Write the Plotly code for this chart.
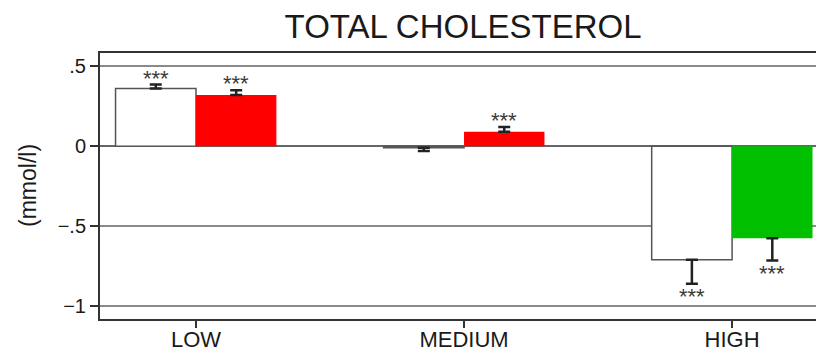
import plotly.graph_objects as go
import numpy as np

categories = ["LOW", "MEDIUM", "HIGH"]
series1_values = [0.36, -0.01, -0.71]
series1_err_plus = [0.025, 0.0, 0.0]
series1_err_minus = [0.0, 0.02, 0.15]
series1_sig = ["***", "", "***"]
series2_values = [0.32, 0.09, -0.575]
series2_err_plus = [0.03, 0.03, 0.0]
series2_err_minus = [0.0, 0.0, 0.14]
series2_sig = ["***", "***", "***"]
series2_colors = ["#ff0000", "#ff0000", "#00c000"]
ytick_vals = [0.5, 0, -0.5, -1]
ytick_text = [".5", "0", "\u2212.5", "\u22121"]

FONT = "Liberation Sans, Arial, Helvetica, sans-serif"
pos = np.arange(len(categories))
bw = 0.3

fig = go.Figure()
fig.add_trace(go.Bar(
    x=pos - bw / 2, y=series1_values, width=bw,
    marker=dict(color="white", line=dict(color="#555555", width=1.5)),
    error_y=dict(type="data", symmetric=False, array=series1_err_plus,
                 arrayminus=series1_err_minus, color="#222222", thickness=2.5, width=6),
    showlegend=False, hoverinfo="skip",
))
fig.add_trace(go.Bar(
    x=pos + bw / 2, y=series2_values, width=bw,
    marker=dict(color=series2_colors, line=dict(width=0)),
    error_y=dict(type="data", symmetric=False, array=series2_err_plus,
                 arrayminus=series2_err_minus, color="#222222", thickness=2.5, width=6),
    showlegend=False, hoverinfo="skip",
))

annotations = []
for offs, vals, ep, em, sig in [(-bw / 2, series1_values, series1_err_plus, series1_err_minus, series1_sig),
                                (bw / 2, series2_values, series2_err_plus, series2_err_minus, series2_sig)]:
    for i, v in enumerate(vals):
        if not sig[i]:
            continue
        if v >= 0:
            annotations.append(dict(x=pos[i] + offs, y=v + ep[i], text=sig[i], showarrow=False,
                                    yanchor="bottom", yshift=-8, xref="x", yref="y",
                                    font=dict(family=FONT, size=22, color="#3a3a3a")))
        else:
            annotations.append(dict(x=pos[i] + offs, y=v - em[i], text=sig[i], showarrow=False,
                                    yanchor="top", yshift=2, xref="x", yref="y",
                                    font=dict(family=FONT, size=22, color="#3a3a3a")))

annotations.append(dict(text="(mmol/l)", textangle=-90, xref="paper", yref="paper",
                        x=0, y=0.5, xanchor="center", yanchor="middle", xshift=-72,
                        showarrow=False, font=dict(family=FONT, size=23, color="#1a1a1a")))

fig.update_layout(
    width=816, height=352,
    margin=dict(l=100, r=0, t=53, b=33),
    paper_bgcolor="white", plot_bgcolor="white",
    barmode="overlay",
    title=dict(text="TOTAL CHOLESTEROL", x=0.5675, xanchor="center", y=0.925, yanchor="middle",
               font=dict(family=FONT, size=33, color="#1a1a1a")),
    annotations=annotations,
    font=dict(family=FONT, color="#1a1a1a"),
)
fig.update_xaxes(
    range=[-0.358, 2.313], tickvals=pos, ticktext=categories,
    showline=True, linecolor="#333333", linewidth=2, mirror=True,
    ticks="outside", ticklen=7, tickwidth=1.5, tickcolor="#333333",
    showgrid=False, zeroline=False,
    tickfont=dict(family=FONT, size=22, color="#1a1a1a"), automargin=False,
    ticklabelstandoff=-7,
)
fig.update_yaxes(
    range=[-1.08, 0.5825], tickvals=ytick_vals, ticktext=ytick_text,
    showline=True, linecolor="#333333", linewidth=2,
    ticks="outside", ticklen=8, tickwidth=1.5, tickcolor="#333333",
    showgrid=True, gridcolor="#8a8a8a", gridwidth=1.5,
    zeroline=True, zerolinecolor="#666666", zerolinewidth=1.5,
    tickfont=dict(family=FONT, size=20, color="#1a1a1a"), automargin=False,
    ticklabelstandoff=0,
)

fig.write_html("out.html", config={"displayModeBar": False},
               post_script="document.body.style.margin='0px';document.body.style.overflow='hidden';")
